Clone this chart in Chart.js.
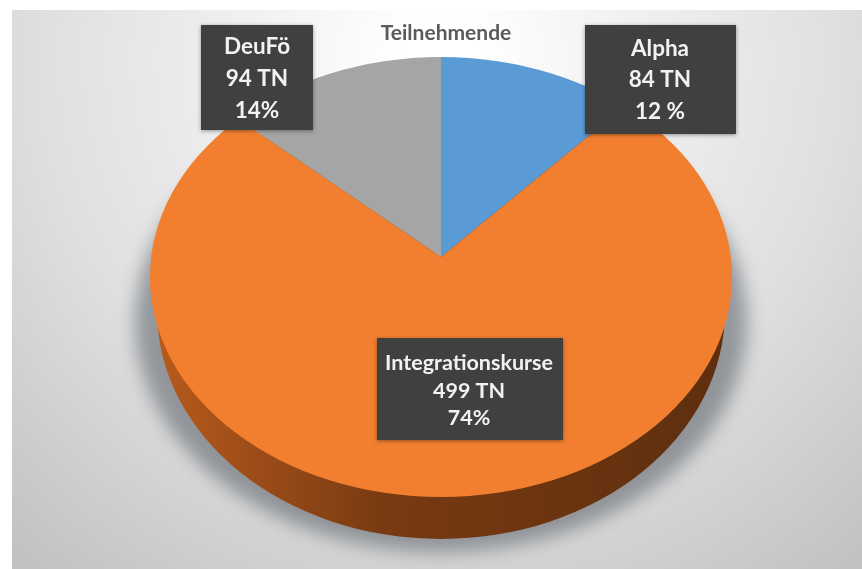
<!DOCTYPE html>
<html lang="de">
<head>
<meta charset="utf-8">
<title>Teilnehmende</title>
<script src="https://cdn.jsdelivr.net/npm/chart.js@4"></script>
<style>
html,body{margin:0;padding:0;background:#fff;}
#wrap{width:862px;height:569px;position:relative;overflow:hidden;}
canvas{display:block;filter:blur(0.7px);}
</style>
</head>
<body>
<div id="wrap"><canvas id="c"></canvas></div>
<script>
const chartTitle = 'Teilnehmende';
const categories = ['Alpha', 'Integrationskurse', 'DeuFö'];
const participants = [84, 499, 94];
const participantLabels = ['84 TN', '499 TN', '94 TN'];
const shareLabels = ['12 %', '74%', '14%'];
const sliceColors = ['#5b9bd5', '#f27f2f', '#a5a5a5'];

const FONT = 'Lato, sans-serif';
const face = {cx: 441, cy: 277, rx: 291, ry: 220, apexY: 257, tilt: 0.81};
const wall = {cx: 441, cy: 311, rx: 284, ry: 228};
const halo = {cx: 441, cy: 322, rx: 306, ry: 230};
const boxes = [
  {x: 585, y: 25, w: 151, h: 109, cx: 660, lines: [49, 80, 112], size: 22.5},
  {x: 377, y: 338, w: 186, h: 102, cx: 469, lines: [363, 391, 418], size: 21.5},
  {x: 201, y: 25, w: 112, h: 105, cx: 257, lines: [47, 79, 111], size: 22.5}
];

const backdrop = {
  id: 'backdrop',
  beforeDraw(chart) {
    const ctx = chart.ctx;
    ctx.save();
    ctx.fillStyle = '#ffffff';
    ctx.fillRect(0, 0, 862, 569);
    const g = ctx.createRadialGradient(440, 60, 40, 440, 60, 650);
    g.addColorStop(0, '#ffffff');
    g.addColorStop(0.3, '#eeeeee');
    g.addColorStop(0.58, '#e0e0e0');
    g.addColorStop(0.75, '#d4d4d4');
    g.addColorStop(1, '#c2c2c2');
    ctx.fillStyle = g;
    ctx.fillRect(12, 10, 850, 559);
    ctx.restore();
  }
};

const solid = {
  id: 'solid',
  beforeDatasetsDraw(chart) {
    const ctx = chart.ctx;
    ctx.save();
    ctx.filter = 'blur(9px)';
    ctx.fillStyle = 'rgba(95,102,110,0.6)';
    ctx.beginPath();
    ctx.ellipse(halo.cx, halo.cy, halo.rx, halo.ry, 0, 0, Math.PI * 2);
    ctx.fill();
    ctx.restore();

    ctx.save();
    const g = ctx.createLinearGradient(wall.cx - wall.rx, 0, wall.cx + wall.rx, 0);
    g.addColorStop(0, '#b85a1c');
    g.addColorStop(0.4, '#783a12');
    g.addColorStop(1, '#5e2f0e');
    ctx.fillStyle = g;
    ctx.beginPath();
    ctx.ellipse(wall.cx, wall.cy, wall.rx, wall.ry, 0, 0, Math.PI * 2);
    ctx.fill();
    ctx.restore();

    ctx.save();
    ctx.beginPath();
    ctx.ellipse(face.cx, face.cy, face.rx, face.ry, 0, 0, Math.PI * 2);
    ctx.clip();
    ctx.translate(face.cx, face.apexY);
    ctx.scale(1, face.tilt);
    ctx.translate(-face.cx, -face.apexY);
  },
  afterDatasetsDraw(chart) {
    chart.ctx.restore();
  }
};

const callouts = {
  id: 'callouts',
  afterDraw(chart) {
    const ctx = chart.ctx;
    ctx.save();
    ctx.textAlign = 'center';
    ctx.textBaseline = 'middle';
    ctx.font = '700 21px ' + FONT;
    ctx.fillStyle = '#5a5a5a';
    ctx.fillText(chartTitle, 446, 33);
    categories.forEach((name, i) => {
      const b = boxes[i];
      ctx.save();
      ctx.shadowColor = 'rgba(0,0,0,0.4)';
      ctx.shadowBlur = 4;
      ctx.shadowOffsetY = 1;
      ctx.fillStyle = '#404040';
      ctx.fillRect(b.x, b.y, b.w, b.h);
      ctx.restore();
      ctx.fillStyle = '#f2f2f2';
      ctx.font = '700 ' + b.size + 'px ' + FONT;
      [name, participantLabels[i], shareLabels[i]].forEach((t, j) => {
        ctx.fillText(t, b.cx, b.lines[j]);
      });
    });
    ctx.restore();
  }
};

new Chart(document.getElementById('c'), {
  type: 'pie',
  data: {
    labels: categories,
    datasets: [{
      data: participants,
      backgroundColor: sliceColors,
      borderWidth: 0,
      hoverOffset: 0,
      clip: false
    }]
  },
  plugins: [backdrop, solid, callouts],
  options: {
    responsive: true,
    maintainAspectRatio: false,
    animation: false,
    radius: 345,
    layout: {padding: {left: 20, right: 0, top: 0, bottom: 55}},
    plugins: {legend: {display: false}, tooltip: {enabled: false}, title: {display: false}}
  }
});
</script>
</body>
</html>
